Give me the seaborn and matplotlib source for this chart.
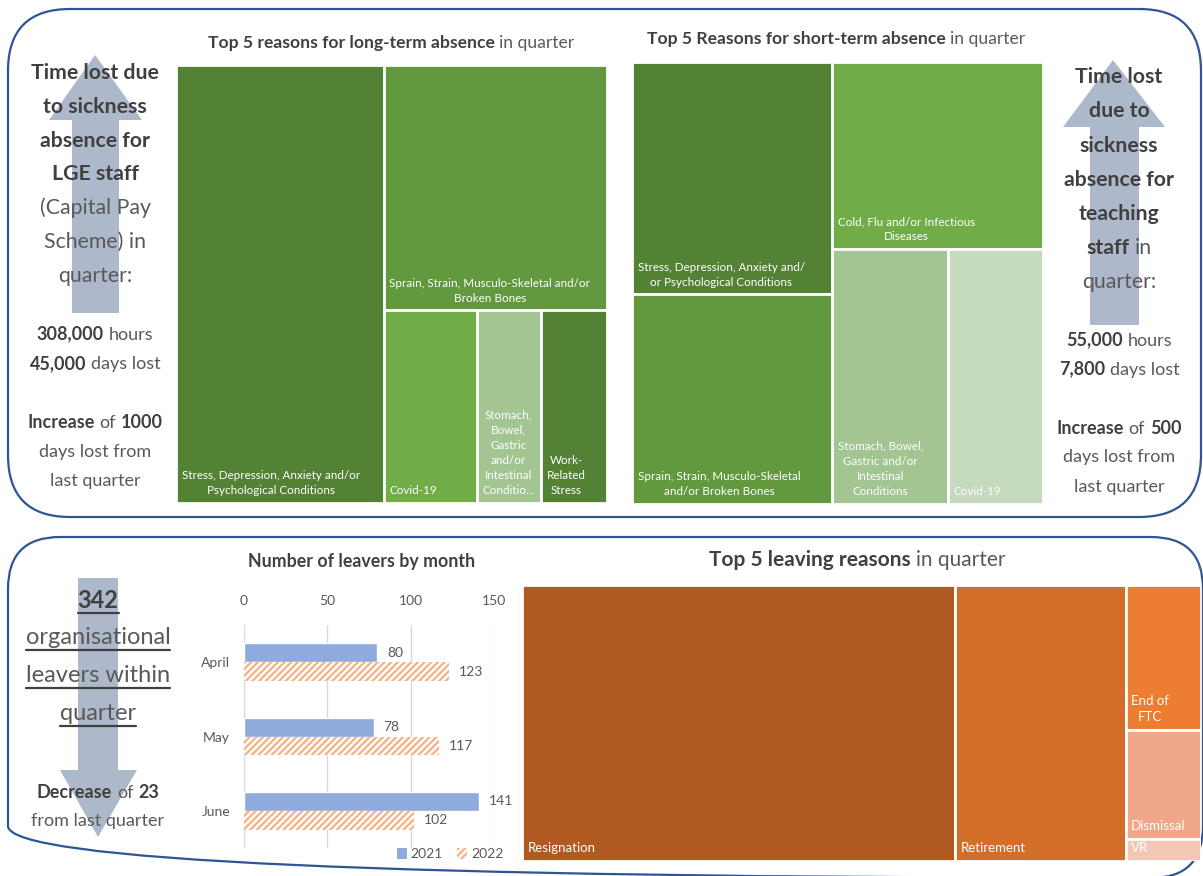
import numpy as np
import pandas as pd
import matplotlib
matplotlib.use("Agg")
import matplotlib.pyplot as plt
import seaborn as sns
from matplotlib.patches import Rectangle, FancyBboxPatch, Polygon, Patch
from matplotlib.offsetbox import TextArea, HPacker, AnnotationBbox

# ---------------- data ----------------
lt_keys = ["stress", "sprain", "covid", "stomach", "work"]
lt_labels = ["Stress, Depression, Anxiety and/or\nPsychological Conditions",
             "Sprain, Strain, Musculo-Skeletal and/or\nBroken Bones",
             "Covid-19",
             "Stomach,\nBowel,\nGastric\nand/or\nIntestinal\nConditio...",
             "Work-\nRelated\nStress"]
lt_values = [90.0, 54.2, 17.7, 12.3, 12.5]
lt_colors = ["#548235", "#62993E", "#70AD47", "#A2C592", "#548235"]
lt_structure = ["stress", ["sprain", ["covid", "stomach", "work"]]]

st_keys = ["stress", "sprain", "cold", "stomach", "covid"]
st_labels = ["Stress, Depression, Anxiety and/\nor Psychological Conditions",
             "Sprain, Strain, Musculo-Skeletal\nand/or Broken Bones",
             "Cold, Flu and/or Infectious\nDiseases",
             "Stomach, Bowel,\nGastric and/or\nIntestinal\nConditions",
             "Covid-19"]
st_values = [45.5, 41.0, 38.6, 29.0, 23.6]
st_colors = ["#548235", "#62993E", "#70AD47", "#A2C592", "#C5D9BC"]
st_structure = [["stress", "sprain"], ["cold", ["stomach", "covid"]]]

lv_keys = ["resignation", "retirement", "ftc", "dismissal", "vr"]
lv_labels = ["Resignation", "Retirement", "End of\nFTC", "Dismissal", "VR"]
lv_values = [218, 86, 20, 15, 3]
lv_colors = ["#B05A22", "#D26D2A", "#ED7D31", "#F0A789", "#F4C7B5"]
lv_structure = ["resignation", "retirement", ["ftc", "dismissal", "vr"]]

months = ["April", "May", "June"]
leavers_2021 = [80, 78, 141]
leavers_2022 = [123, 117, 102]
years = ["2021", "2022"]
bar_colors = ["#8FAADC", "#F4B183"]

# ---------------- setup ----------------
sns.set_theme(style="white")
plt.rcParams["font.family"] = ["Lato", "DejaVu Sans"]
plt.rcParams["hatch.linewidth"] = 1.6

W, H = 1203, 876
fig = plt.figure(figsize=(W / 100, H / 100), dpi=100)
fig.patch.set_facecolor("white")

bg = fig.add_axes([0, 0, 1, 1])
bg.set_xlim(0, W)
bg.set_ylim(H, 0)
bg.axis("off")

DARK = "#404040"
MID = "#595959"


def pax(x0, y0, x1, y1):
    a = fig.add_axes([x0 / W, 1 - y1 / H, (x1 - x0) / W, (y1 - y0) / H])
    a.patch.set_alpha(0)
    return a


def rich(x, y, parts, size, zorder=5):
    areas = []
    for t, b in parts:
        areas.append(TextArea(t, textprops=dict(fontsize=size,
                                                fontweight="bold" if b else "normal",
                                                color=DARK if b else MID)))
    box = HPacker(children=areas, align="baseline", pad=0, sep=0.26 * size)
    ab = AnnotationBbox(box, (x, y), xycoords="data", frameon=False,
                        box_alignment=(0.5, 0.5), pad=0, zorder=zorder)
    bg.add_artist(ab)


# ---------------- boxes ----------------
bg.add_patch(FancyBboxPatch((8, 9), 1193, 508, boxstyle="round,pad=0,rounding_size=62",
                            facecolor="none", edgecolor="#2F5597", lw=1.6))
bg.add_patch(FancyBboxPatch((8, 537), 1195, 341, boxstyle="round,pad=0,rounding_size=52",
                            facecolor="none", edgecolor="#2F5597", lw=1.6))

# ---------------- arrows ----------------
ARROW = "#ADB9CA"
bg.add_patch(Polygon([(72, 313), (72, 120), (49, 120), (95, 55), (142, 120), (119, 120), (119, 313)],
                     closed=True, facecolor=ARROW, edgecolor="none", zorder=1))
bg.add_patch(Polygon([(1090, 325), (1090, 127), (1063, 127), (1113, 60), (1165, 127), (1139, 127), (1139, 325)],
                     closed=True, facecolor=ARROW, edgecolor="none", zorder=1))
bg.add_patch(Polygon([(78, 578), (118, 578), (118, 770), (137, 770), (98, 837), (60, 770), (78, 770)],
                     closed=True, facecolor=ARROW, edgecolor="none", zorder=1))

# ---------------- side texts ----------------
BIG, SM = 15.3, 13
left_lines = [
    ([("Time lost due", True)], 73, BIG),
    ([("to sickness", True)], 107, BIG),
    ([("absence for", True)], 141, BIG),
    ([("LGE staff", True)], 174, BIG),
    ([("(Capital Pay", False)], 208, BIG),
    ([("Scheme) in", False)], 242, BIG),
    ([("quarter:", False)], 276, BIG),
    ([("308,000", True), ("hours", False)], 334, SM),
    ([("45,000", True), ("days lost", False)], 364, SM),
    ([("Increase", True), ("of", False), ("1000", True)], 422, SM),
    ([("days lost from", False)], 452, SM),
    ([("last quarter", False)], 481, SM),
]
for parts, y, s in left_lines:
    rich(95, y, parts, s)

right_lines = [
    ([("Time lost", True)], 77, BIG),
    ([("due to", True)], 111, BIG),
    ([("sickness", True)], 146, BIG),
    ([("absence for", True)], 180, BIG),
    ([("teaching", True)], 214, BIG),
    ([("staff", True), ("in", False)], 248, BIG),
    ([("quarter:", False)], 282, BIG),
    ([("55,000", True), ("hours", False)], 340, SM),
    ([("7,800", True), ("days lost", False)], 369, SM),
    ([("Increase", True), ("of", False), ("500", True)], 428, SM),
    ([("days lost from", False)], 457, SM),
    ([("last quarter", False)], 487, SM),
]
for parts, y, s in right_lines:
    rich(1119, y, parts, s)

ul_texts = []
for t, y, b in [("342", 600, True), ("organisational", 638, False),
                ("leavers within", 676, False), ("quarter", 714, False)]:
    ul_texts.append(bg.text(98, y, t, ha="center", va="center", fontsize=17,
                            fontweight="bold" if b else "normal",
                            color=DARK if b else MID, zorder=5))
rich(98, 792, [("Decrease", True), ("of", False), ("23", True)], SM)
rich(98, 821, [("from last quarter", False)], SM)

# ---------------- titles ----------------
rich(391, 43, [("Top 5 reasons for long-term absence", True), ("in quarter", False)], 12.6)
rich(836, 39, [("Top 5 Reasons for short-term absence", True), ("in quarter", False)], 12.6)
rich(857, 560, [("Top 5 leaving reasons", True), ("in quarter", False)], 15)
rich(362, 562, [("Number of leavers by month", True)], 12.8)


# ---------------- treemaps ----------------
def draw_tree(ax, keys, values, labels, colors, structure, fs):
    vals = dict(zip(keys, values))

    def weight(n):
        return vals[n] if isinstance(n, str) else sum(weight(c) for c in n)

    rects = {}

    def split(n, x0, y0, x1, y1, horiz):
        if isinstance(n, str):
            rects[n] = (x0, y0, x1, y1)
            return
        tot = weight(n)
        pos = x0 if horiz else y0
        for c in n:
            f = weight(c) / tot
            if horiz:
                e = pos + f * (x1 - x0)
                split(c, pos, y0, e, y1, False)
            else:
                e = pos + f * (y1 - y0)
                split(c, x0, pos, x1, e, True)
            pos = e

    split(structure, 0, 0, 1, 1, True)
    for k, lab, col in zip(keys, labels, colors):
        x0, y0, x1, y1 = rects[k]
        ax.add_patch(Rectangle((x0, y0), x1 - x0, y1 - y0, facecolor=col,
                               edgecolor="white", lw=2))
        ax.annotate(lab, xy=(x0, y1), xytext=(4, 5), textcoords="offset points",
                    ha="left", va="bottom", multialignment="center",
                    color="white", fontsize=fs, linespacing=1.45)
    ax.set_xlim(0, 1)
    ax.set_ylim(1, 0)
    ax.axis("off")


draw_tree(pax(176, 65, 607, 503), lt_keys, lt_values, lt_labels, lt_colors, lt_structure, 8.4)
draw_tree(pax(632, 62, 1043, 504), st_keys, st_values, st_labels, st_colors, st_structure, 8.4)
draw_tree(pax(522, 585, 1201, 861), lv_keys, lv_values, lv_labels, lv_colors, lv_structure, 9.5)

# ---------------- bar chart ----------------
df = pd.DataFrame({
    "Month": months * 2,
    "Leavers": leavers_2021 + leavers_2022,
    "Year": [years[0]] * len(months) + [years[1]] * len(months),
})
bax = pax(244, 625, 494, 848)
sns.barplot(data=df, x="Leavers", y="Month", hue="Year", orient="h",
            palette=bar_colors, width=0.51, saturation=1, legend=False, ax=bax)
for p in bax.containers[1]:
    p.set_facecolor("white")
    p.set_edgecolor(bar_colors[1])
    p.set_hatch("/////")
    p.set_linewidth(0)
for c in bax.containers:
    bax.bar_label(c, padding=7, fontsize=10, color=MID)
bax.set_xlim(0, 150)
bax.set_ylim(2.5, -0.5)
bax.set_xticks([0, 50, 100, 150])
bax.xaxis.tick_top()
bax.tick_params(axis="x", length=0, pad=13, labelsize=10, labelcolor=MID)
bax.tick_params(axis="y", length=0, pad=10, labelsize=10, labelcolor=MID)
bax.grid(axis="x", color="#D9D9D9", lw=1)
bax.set_axisbelow(True)
for s in bax.spines.values():
    s.set_visible(False)
bax.set_xlabel("")
bax.set_ylabel("")

handles = [Patch(facecolor=bar_colors[0], edgecolor="none"),
           Patch(facecolor="white", edgecolor=bar_colors[1], hatch="/////", lw=0)]
fig.legend(handles, years, loc="center", bbox_to_anchor=(450 / W, 1 - 854 / H), ncol=2,
           frameon=False, fontsize=10, labelcolor=MID, handlelength=0.7,
           handleheight=0.9, columnspacing=1.0, handletextpad=0.3)

# ---------------- underlines ----------------
fig.canvas.draw()
r = fig.canvas.get_renderer()
inv = bg.transData.inverted()
for t in ul_texts:
    bb = t.get_window_extent(r)
    (xa, ya), (xb, yb) = inv.transform([(bb.x0, bb.y0), (bb.x1, bb.y1)])
    bg.plot([xa, xb], [ya + 1, ya + 1], color=DARK, lw=1.6, zorder=5)

fig.savefig("out.png", dpi=100)
